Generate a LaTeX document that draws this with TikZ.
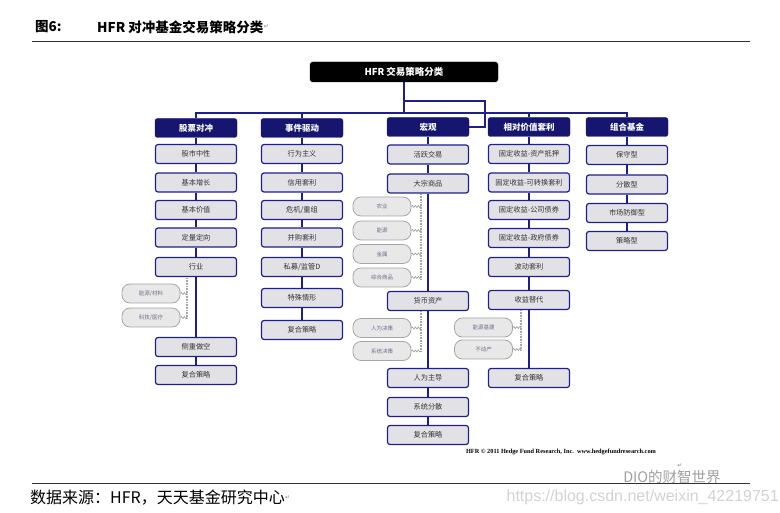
\documentclass[tikz,border=0pt]{standalone}
\usepackage{fontspec}
\usetikzlibrary{decorations.pathmorphing}
\newfontfamily\cjk{Noto Sans CJK SC}
\newfontfamily\symf{DejaVu Sans}
\newfontfamily\tms{Liberation Serif}
\newfontfamily\lsans{Liberation Sans}
\definecolor{hfr_navy}{RGB}{22, 22, 112}
\definecolor{hfr_line}{RGB}{30, 30, 140}
\definecolor{hfr_grey}{RGB}{226, 226, 230}
\definecolor{hfr_pill}{RGB}{232, 232, 232}
\definecolor{hfr_pilltext}{RGB}{110, 110, 140}
\tikzstyle{hfrbox}=[rectangle,rounded corners=3pt,fill=black,draw=black,text=white,
  font=\cjk\bfseries\fontsize{9.5}{10}\selectfont,minimum width=188pt,minimum height=20pt]
\tikzstyle{hdr}=[rectangle,rounded corners=2.5pt,fill=hfr_navy,draw=hfr_navy,text=white,
  font=\cjk\bfseries\fontsize{8.5}{9}\selectfont,minimum width=82pt,minimum height=19pt,inner sep=1pt]
\tikzstyle{sub}=[rectangle,rounded corners=2.5pt,fill=hfr_grey,draw=hfr_line,line width=1.2pt,
  font=\cjk\fontsize{7.2}{8}\selectfont,text=black!80,minimum width=81pt,minimum height=19pt,inner sep=1pt]
\tikzstyle{pil}=[rectangle,rounded corners=8pt,fill=hfr_pill,draw=gray!70,line width=0.8pt,
  font=\cjk\fontsize{5.5}{6}\selectfont,text=hfr_pilltext,minimum width=58pt,minimum height=19pt,inner sep=1pt]
\tikzstyle{ln}=[draw=hfr_line,line width=2.4pt]
\tikzstyle{dl}=[draw=gray!70,line width=2pt,dash pattern=on 0.8pt off 0.8pt]
\tikzstyle{wv}=[draw=gray!80,line width=0.6pt,decorate,decoration={snake,amplitude=1pt,segment length=3pt}]
\tikzstyle{rule}=[draw=black!80,line width=1pt]
\tikzstyle{rm}=[font=\symf\fontsize{6}{6}\selectfont,text=gray,inner sep=0pt]

\begin{document}
\begin{tikzpicture}[x=1pt,y=-1pt]
    \useasboundingbox (0,0) rectangle (780,513);
    % title
    \node [font=\cjk\bfseries\fontsize{13.5}{14}\selectfont,anchor=west,inner sep=0pt] (t1) at (35,27) {图6:};
    \node [font=\cjk\bfseries\fontsize{13.5}{14}\selectfont,anchor=west,inner sep=0pt] (t2) at (97,27) {HFR 对冲基金交易策略分类};
    \node [rm,anchor=west] (t3) at (t2.east) {↵};
    \draw [rule] (32,42) -- (750,42);

    %\begin{pgfonlayer}{nodelayer}
    \node [style=hfrbox] (0) at (404,72) {HFR 交易策略分类};
    \node [style=hdr] (1) at (196,128) {股票对冲};
    \node [style=hdr] (2) at (302,128) {事件驱动};
    \node [style=hdr] (3) at (428,127) {宏观};
    \node [style=hdr] (4) at (529,127) {相对价值套利};
    \node [style=hdr] (5) at (627,127) {组合基金};

    \node [style=sub] (11) at (196,154) {股市中性};
    \node [style=sub] (12) at (196,182.5) {基本增长};
    \node [style=sub] (13) at (196,210) {基本价值};
    \node [style=sub] (14) at (196,237.5) {定量定向};
    \node [style=sub] (15) at (196,267) {行业};
    \node [style=sub] (16) at (196,347) {侧重做空};
    \node [style=sub] (17) at (196,375) {复合策略};

    \node [style=sub] (21) at (302,154) {行为主义};
    \node [style=sub] (22) at (302,182.5) {信用套利};
    \node [style=sub] (23) at (302,210) {危机/重组};
    \node [style=sub] (24) at (302,237.5) {并购套利};
    \node [style=sub] (25) at (302,267) {私募/监管D};
    \node [style=sub] (26) at (302,298) {特殊情形};
    \node [style=sub] (27) at (302,330) {复合策略};

    \node [style=sub] (31) at (428,154.5) {活跃交易};
    \node [style=sub] (32) at (428,183.5) {大宗商品};
    \node [style=sub] (33) at (428,301) {货币资产};
    \node [style=sub] (34) at (428,378) {人为主导};
    \node [style=sub] (35) at (428,407) {系统分散};
    \node [style=sub] (36) at (428,435) {复合策略};

    \node [style=sub] (41) at (529,154) {固定收益-资产抵押};
    \node [style=sub] (42) at (529,182.5) {固定收益-可转换套利};
    \node [style=sub] (43) at (529,210) {固定收益-公司债券};
    \node [style=sub] (44) at (529,238) {固定收益-政府债券};
    \node [style=sub] (45) at (529,267) {波动套利};
    \node [style=sub] (46) at (529,300) {收益替代};
    \node [style=sub] (47) at (529,378) {复合策略};

    \node [style=sub] (51) at (627,155) {保守型};
    \node [style=sub] (52) at (627,184.5) {分散型};
    \node [style=sub] (53) at (627,213) {市场防御型};
    \node [style=sub] (54) at (627,241) {策略型};

    \node [style=pil] (p11) at (151,293.5) {能源/材料};
    \node [style=pil] (p12) at (151,317.5) {科技/医疗};
    \node [style=pil] (p31) at (382,206.5) {农业};
    \node [style=pil] (p32) at (382,230.5) {能源};
    \node [style=pil] (p33) at (382,254) {金属};
    \node [style=pil] (p34) at (382,277.5) {综合商品};
    \node [style=pil] (p35) at (382,328) {人为决策};
    \node [style=pil] (p36) at (382,351) {系统决策};
    \node [style=pil] (p41) at (483.5,327.5) {能源基建};
    \node [style=pil] (p42) at (483.5,349.5) {不动产};

    \coordinate (b0) at (404,101);
    \coordinate (b1) at (485,101);
    \coordinate (b2) at (404,113);
    \coordinate (d1a) at (187,278);
    \coordinate (d1b) at (187,319);
    \coordinate (d3a) at (421,194);
    \coordinate (d3b) at (421,279);
    \coordinate (d3c) at (421,311);
    \coordinate (d3d) at (421,352);
    \coordinate (d4a) at (521,310);
    \coordinate (d4b) at (521,351);
    %\end{pgfonlayer}

    %\begin{pgfonlayer}{edgelayer}
    \draw [ln] (0) to (b0);
    \draw [ln] (b0) -- (b1) |- (3);
    \draw [ln] (b0) to (b2);
    \draw [ln] (1) -- (1 |- b2) -- (5 |- b2) -- (5);
    \draw [ln] (2) to (2 |- b2);
    \draw [ln] (4) to (4 |- b2);

    \draw [ln] (1) to (11);
    \draw [ln] (11) to (12);
    \draw [ln] (12) to (13);
    \draw [ln] (13) to (14);
    \draw [ln] (14) to (15);
    \draw [ln] (15) to (16);
    \draw [ln] (16) to (17);

    \draw [ln] (2) to (21);
    \draw [ln] (21) to (22);
    \draw [ln] (22) to (23);
    \draw [ln] (23) to (24);
    \draw [ln] (24) to (25);
    \draw [ln] (25) to (26);
    \draw [ln] (26) to (27);

    \draw [ln] (3) to (31);
    \draw [ln] (31) to (32);
    \draw [ln] (32) to (33);
    \draw [ln] (33) to (34);
    \draw [ln] (34) to (35);
    \draw [ln] (35) to (36);

    \draw [ln] (4) to (41);
    \draw [ln] (41) to (42);
    \draw [ln] (42) to (43);
    \draw [ln] (43) to (44);
    \draw [ln] (44) to (45);
    \draw [ln] (45) to (46);
    \draw [ln] (46) to (47);

    \draw [ln] (5) to (51);
    \draw [ln] (51) to (52);
    \draw [ln] (52) to (53);
    \draw [ln] (53) to (54);

    \draw [dl] (d1a) to (d1b);
    \draw [dl] (d3a) to (d3b);
    \draw [dl] (d3c) to (d3d);
    \draw [dl] (d4a) to (d4b);
    \draw [wv] (p11) to (p11 -| d1a);
    \draw [wv] (p12) to (p12 -| d1a);
    \draw [wv] (p31) to (p31 -| d3a);
    \draw [wv] (p32) to (p32 -| d3a);
    \draw [wv] (p33) to (p33 -| d3a);
    \draw [wv] (p34) to (p34 -| d3a);
    \draw [wv] (p35) to (p35 -| d3c);
    \draw [wv] (p36) to (p36 -| d3c);
    \draw [wv] (p41) to (p41 -| d4a);
    \draw [wv] (p42) to (p42 -| d4a);
    %\end{pgfonlayer}

    % footer
    \node [font=\tms\bfseries\fontsize{6.3}{7}\selectfont,inner sep=0pt] (c0) at (561,452)
      {HFR \textcopyright{} 2011 Hedge Fund Research, Inc.\ \ www.hedgefundresearch.com};
    \node [rm] (r1) at (680,466) {↵};
    \draw [rule] (32,483) -- (750,483);
    \node [font=\cjk\fontsize{16}{17}\selectfont,anchor=west,inner sep=0pt] (s0) at (30,498) {数据来源：HFR，天天基金研究中心};
    \node [rm,anchor=west] (s1) at (s0.east) {↵};
    \node [font=\cjk\fontsize{14.5}{15}\selectfont,text=gray!75,inner sep=0pt] (w1) at (672,477) {DIO的财智世界};
    \node [font=\lsans\fontsize{16}{17}\selectfont,text=gray!35,anchor=east,inner sep=0pt] (w2) at (779,497) {https://blog.csdn.net/weixin\_42219751};
\end{tikzpicture}
\end{document}
